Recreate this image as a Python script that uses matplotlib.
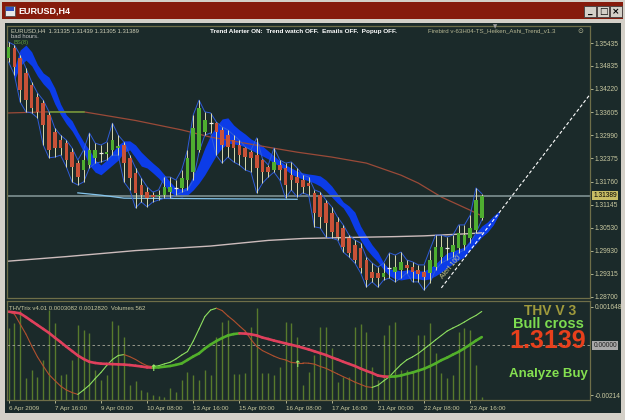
import numpy as np
import matplotlib
matplotlib.use("Agg")
import matplotlib.pyplot as plt
from matplotlib.patches import Rectangle
from matplotlib.collections import LineCollection
from matplotlib.transforms import blended_transform_factory

plt.rcParams['font.family'] = ['Liberation Sans', 'DejaVu Sans']

# ---- price data (Heiken Ashi candles, H4 bars) ----
open_ = [1.3504, 1.3530, 1.3504, 1.3464, 1.3432, 1.3400, 1.3384, 1.3353, 1.3307, 1.3286,
         1.3278, 1.3254, 1.3225, 1.3207, 1.3220, 1.3239, 1.3252, 1.3249, 1.3260, 1.3265,
         1.3273, 1.3239, 1.3199, 1.3167, 1.3148, 1.3140, 1.3138, 1.3140, 1.3148, 1.3159,
         1.3159, 1.3180, 1.3201, 1.3260, 1.3307, 1.3331, 1.3331, 1.3313, 1.3299, 1.3286,
         1.3273, 1.3265, 1.3254, 1.3246, 1.3233, 1.3215, 1.3207, 1.3220, 1.3212, 1.3193,
         1.3188, 1.3180, 1.3172, 1.3146, 1.3140, 1.3119, 1.3093, 1.3069, 1.3053, 1.3026,
         1.3008, 1.3000, 1.2968, 1.2936, 1.2934, 1.2923, 1.2947, 1.2936, 1.2942, 1.2955,
         1.2949, 1.2942, 1.2936, 1.2934, 1.2949, 1.2976, 1.3000, 1.2989, 1.3000, 1.3008,
         1.3026, 1.3048, 1.3079]
close_ = [1.3533, 1.3480, 1.3419, 1.3392, 1.3371, 1.3361, 1.3326, 1.3260, 1.3265, 1.3265,
          1.3233, 1.3215, 1.3188, 1.3233, 1.3260, 1.3260, 1.3251, 1.3254, 1.3286, 1.3270,
          1.3225, 1.3185, 1.3146, 1.3140, 1.3132, 1.3135, 1.3140, 1.3162, 1.3162, 1.3158,
          1.3185, 1.3239, 1.3318, 1.3371, 1.3339, 1.3332, 1.3307, 1.3273, 1.3268, 1.3265,
          1.3246, 1.3241, 1.3239, 1.3212, 1.3201, 1.3201, 1.3228, 1.3207, 1.3167, 1.3180,
          1.3172, 1.3162, 1.3164, 1.3093, 1.3082, 1.3066, 1.3042, 1.3029, 1.3002, 1.2987,
          1.2968, 1.2947, 1.2915, 1.2920, 1.2920, 1.2934, 1.2946, 1.2949, 1.2963, 1.2947,
          1.2936, 1.2931, 1.2923, 1.2968, 1.3002, 1.3002, 1.3001, 1.3008, 1.3040, 1.3034,
          1.3053, 1.3127, 1.3139]
high_ = [1.3546, 1.3538, 1.3512, 1.3477, 1.3440, 1.3411, 1.3392, 1.3361, 1.3318, 1.3299,
         1.3286, 1.3265, 1.3233, 1.3260, 1.3305, 1.3278, 1.3273, 1.3281, 1.3331, 1.3299,
         1.3281, 1.3246, 1.3212, 1.3185, 1.3162, 1.3148, 1.3154, 1.3188, 1.3188, 1.3180,
         1.3207, 1.3260, 1.3353, 1.3392, 1.3361, 1.3358, 1.3334, 1.3321, 1.3313, 1.3299,
         1.3286, 1.3268, 1.3260, 1.3292, 1.3236, 1.3220, 1.3265, 1.3233, 1.3225, 1.3228,
         1.3212, 1.3193, 1.3188, 1.3154, 1.3148, 1.3127, 1.3109, 1.3082, 1.3061, 1.3034,
         1.3021, 1.3013, 1.2976, 1.2960, 1.2949, 1.2960, 1.2987, 1.2981, 1.2989, 1.2968,
         1.2963, 1.2955, 1.2955, 1.2995, 1.3034, 1.3034, 1.3029, 1.3034, 1.3061, 1.3061,
         1.3087, 1.3159, 1.3144]
low_ = [1.3493, 1.3459, 1.3387, 1.3361, 1.3358, 1.3345, 1.3273, 1.3239, 1.3241, 1.3246,
        1.3215, 1.3175, 1.3167, 1.3175, 1.3212, 1.3225, 1.3228, 1.3233, 1.3246, 1.3246,
        1.3175, 1.3154, 1.3106, 1.3122, 1.3109, 1.3122, 1.3127, 1.3132, 1.3132, 1.3140,
        1.3148, 1.3154, 1.3180, 1.3254, 1.3299, 1.3305, 1.3246, 1.3225, 1.3241, 1.3228,
        1.3220, 1.3207, 1.3201, 1.3146, 1.3172, 1.3188, 1.3201, 1.3180, 1.3132, 1.3154,
        1.3135, 1.3146, 1.3140, 1.3056, 1.3053, 1.3029, 1.3026, 1.3021, 1.2989, 1.2976,
        1.2960, 1.2934, 1.2896, 1.2910, 1.2896, 1.2915, 1.2920, 1.2910, 1.2920, 1.2934,
        1.2910, 1.2910, 1.2888, 1.2907, 1.2942, 1.2960, 1.2968, 1.2976, 1.2987, 1.2995,
        1.3013, 1.3040, 1.3074]

# blue trend ribbon, starts at bar 1 and runs 3 bars past the last candle
ribbon_start = 1
ribbon_hi = [1.3477, 1.3525, 1.3538, 1.3520, 1.3486, 1.3464, 1.3453, 1.3424, 1.3382, 1.3353,
             1.3337, 1.3307, 1.3281, 1.3260, 1.3233, 1.3220, 1.3233, 1.3254, 1.3273, 1.3284,
             1.3284, 1.3273, 1.3254, 1.3239, 1.3225, 1.3212, 1.3194, 1.3175, 1.3159, 1.3156,
             1.3162, 1.3191, 1.3225, 1.3265, 1.3299, 1.3323, 1.3342, 1.3345, 1.3326, 1.3313,
             1.3302, 1.3289, 1.3281, 1.3270, 1.3257, 1.3244, 1.3231, 1.3220, 1.3212, 1.3204,
             1.3199, 1.3196, 1.3194, 1.3191, 1.3180, 1.3164, 1.3143, 1.3122, 1.3111, 1.3095,
             1.3058, 1.3032, 1.3008, 1.2989, 1.2960, 1.2944, 1.2942, 1.2939, 1.2942, 1.2942,
             1.2939, 1.2939, 1.2947, 1.2958, 1.2973, 1.2987, 1.2992, 1.2997, 1.3002, 1.3021,
             1.3040, 1.3058, 1.3069, 1.3085, 1.3098]
ribbon_lo = [1.3445, 1.3483, 1.3498, 1.3483, 1.3456, 1.3435, 1.3419, 1.3382, 1.3353, 1.3329,
             1.3310, 1.3284, 1.3254, 1.3220, 1.3201, 1.3194, 1.3207, 1.3220, 1.3233, 1.3254,
             1.3260, 1.3239, 1.3217, 1.3212, 1.3199, 1.3185, 1.3167, 1.3148, 1.3138, 1.3135,
             1.3140, 1.3154, 1.3172, 1.3194, 1.3220, 1.3246, 1.3265, 1.3278, 1.3276, 1.3273,
             1.3268, 1.3260, 1.3252, 1.3244, 1.3236, 1.3225, 1.3217, 1.3207, 1.3196, 1.3188,
             1.3183, 1.3178, 1.3172, 1.3164, 1.3151, 1.3135, 1.3119, 1.3106, 1.3082, 1.3048,
             1.3021, 1.2997, 1.2979, 1.2963, 1.2942, 1.2926, 1.2918, 1.2915, 1.2918, 1.2920,
             1.2918, 1.2915, 1.2918, 1.2926, 1.2936, 1.2947, 1.2958, 1.2968, 1.2976, 1.2995,
             1.3011, 1.3029, 1.3042, 1.3061, 1.3090]

# moving averages read at a few bars
ma_mid_bars = [0, 7, 13, 22, 30, 35, 45, 50, 56, 62, 68, 71, 75, 80, 82]
ma_mid_vals = [1.3358, 1.3361, 1.3361, 1.3338, 1.3313, 1.3294, 1.3267, 1.3254, 1.3241,
               1.3225, 1.3193, 1.3172, 1.3135, 1.3100, 1.3085]
ma_long_bars = [0, 10, 22, 35, 45, 51, 60, 67, 72, 80, 82]
ma_long_vals = [1.2965, 1.2977, 1.2993, 1.3005, 1.3020, 1.3025, 1.3028, 1.3030, 1.3032,
                1.3038, 1.3040]
support_bars = [12, 16, 20, 50]
support_vals = [1.3146, 1.3140, 1.3132, 1.3129]
trend_bars = [75, 101]
trend_vals = [1.2894, 1.3412]
last_price = 1.31389

price_ticks = [1.35435, 1.34835, 1.34220, 1.33605, 1.32990, 1.32375, 1.31760, 1.31145,
               1.30530, 1.29930, 1.29315, 1.28700]

# ---- THVTrix indicator (values in 1e-4) and tick volumes ----
slow_e4 = [14.4, 14.1, 13.7, 12.1, 10.4, 8.7, 7.0, 5.3, 3.3, 1.4,
           -0.6, -2.5, -4.4, -5.9, -7.1, -7.6, -7.9, -8.0, -8.1, -8.2,
           -8.3, -8.5, -8.8, -9.1, -9.5, -9.6, -9.5, -9.2, -8.9, -8.4,
           -7.8, -6.3, -4.8, -3.5, -1.4, 0.3, 1.8, 3.1, 4.2, 4.8,
           5.1, 5.0, 4.7, 4.2, 3.3, 2.7, 2.0, 1.4, 0.8, 0.2,
           -0.4, -1.1, -1.8, -2.6, -3.4, -4.2, -5.2, -6.1, -7.1, -8.0,
           -8.9, -10.0, -11.0, -11.9, -13.0, -13.4, -13.5, -13.4, -13.0, -12.3,
           -11.7, -10.9, -10.1, -9.0, -7.8, -6.4, -5.3, -4.0, -2.8, -1.3,
           0.3, 2.0, 3.5]
fast_e4 = [14.4, 13.4, 9.1, 4.8, -0.3, -5.0, -8.9, -12.6, -15.1, -17.5,
           -19.2, -20.3, -21.1, -19.2, -17.1, -14.3, -11.7, -8.7, -6.1, -4.4,
           -4.0, -4.9, -6.1, -7.6, -8.8, -9.2, -8.8, -8.0, -7.3, -5.9,
           -4.2, -2.7, 1.8, 7.0, 12.3, 15.1, 15.9, 14.9, 12.6, 10.6,
           8.3, 6.1, 2.5, -0.5, -2.3, -3.5, -4.7, -5.7, -6.3, -7.4,
           -7.6, -7.6, -7.7, -8.1, -9.1, -9.9, -11.1, -12.3, -13.5, -14.6,
           -15.8, -16.8, -17.8, -18.1, -17.2, -15.3, -13.5, -10.8, -8.3, -6.3,
           -5.0, -3.5, -1.6, 0.3, 2.3, 4.2, 6.1, 7.4, 8.6, 10.0,
           11.5, 12.8, 14.5]
cross_bars = [25, 50]
volumes = [720, 770, 900, 220, 300, 230, 400, 900, 770, 250,
           260, 400, 750, 700, 670, 300, 200, 250, 790, 750,
           630, 150, 190, 100, 80, 50, 40, 30, 120, 80,
           200, 280, 250, 200, 300, 250, 630, 780, 800, 260,
           260, 270, 730, 920, 270, 270, 250, 330, 780, 770,
           630, 150, 280, 450, 730, 730, 520, 180, 230, 230,
           730, 760, 680, 330, 200, 650, 750, 780, 300, 300,
           280, 650, 650, 770, 470, 270, 220, 250, 680, 720,
           700, 350, 30]
ind_ticks_e4 = [16.48, -21.4]
ind_tick_labels = ['0.001648', '-0.00214']

date_bars = [0, 8, 16, 24, 32, 40, 48, 56, 64, 72, 80]
date_labels = ['6 Apr 2009', '7 Apr 16:00', '9 Apr 00:00', '10 Apr 08:00', '13 Apr 16:00',
               '15 Apr 00:00', '16 Apr 08:00', '17 Apr 16:00', '21 Apr 00:00',
               '22 Apr 08:00', '23 Apr 16:00']

# ---- layout helpers (pixel -> figure fraction) ----
W, H = 625, 420
def fx(px):
    return px / W
def fy(py):
    return 1 - py / H

BG = '#1b2a2a'
FRAME = '#6e6e48'
TXT = '#c8c8a0'
WIN = '#d4d0c8'
XLIM = (-0.28, 100.76)

fig = plt.figure(figsize=(6.25, 4.2), dpi=100, facecolor=WIN)

# window chrome (kept behind the axes)
def fig_rect(x0, y0, x1, y1, **kw):
    r = Rectangle((fx(x0), fy(y1)), (x1 - x0) / W, (y1 - y0) / H,
                  transform=fig.transFigure, zorder=-5, **kw)
    fig.add_artist(r)

fig_rect(2, 2, 623, 19, fc='#861b0c', ec='none')
fig_rect(5, 6, 15, 16, fc='#e8e8e8', ec='#404040', lw=0.5)
fig_rect(6, 7, 14, 11, fc='#3050c0', ec='none')
fig.text(fx(18), fy(11), 'EURUSD,H4', color='white', fontsize=6.5, fontweight='bold',
         va='center', ha='left')
for bx, glyph in zip([584, 597, 610], ['_', '□', '×']):
    fig_rect(bx, 6, bx + 12, 17, fc=WIN, ec='#404040', lw=0.6)
    fig.text(fx(bx + 6), fy(11.5), glyph, color='black', fontsize=6.5, fontweight='bold',
             ha='center', va='center', family=['DejaVu Sans'])
fig_rect(5, 23, 621, 413, fc=BG, ec='none')

# ---- main price chart ----
ax = fig.add_axes([fx(7), fy(298), 583 / W, 272 / H], facecolor=BG)
bars = np.arange(len(open_))
o = np.array(open_)
c = np.array(close_)
hi = np.array(high_)
lo = np.array(low_)

rb = np.arange(ribbon_start, ribbon_start + len(ribbon_hi))
ax.fill_between(rb, ribbon_lo, ribbon_hi, color='#0c3ce8', lw=0, zorder=1)

ax.plot(ma_long_bars, ma_long_vals, color='#cdbcbc', lw=1.0, zorder=2)
ax.plot(ma_mid_bars, ma_mid_vals, color='#9a4a38', lw=0.9, zorder=2)
ax.plot(ma_mid_bars[1:3], ma_mid_vals[1:3], color='#6a9a3a', lw=1.1, zorder=2)
ax.axhline(last_price, color='#76898a', lw=1.3, zorder=2)
ax.plot(support_bars, support_vals, color='#84c4ec', lw=0.9, zorder=2)

ax.plot(bars, hi, color='#2f5cd8', lw=0.7, zorder=3)
ax.plot(bars, lo, color='#2f5cd8', lw=0.7, zorder=3)

ax.vlines(bars, lo, hi, color='#dcdcae', lw=0.7, zorder=4)
body_lo = np.minimum(o, c)
body_h = np.abs(c - o)
doji = body_h < 0.00015
col = np.where(c > o, '#4fae30', '#c85238')
ax.bar(bars[~doji], body_h[~doji], bottom=body_lo[~doji], width=0.62,
       color=col[~doji], lw=0, zorder=5)
ax.hlines(c[doji], bars[doji] - 0.35, bars[doji] + 0.35, color='#f0f0f0', lw=0.9, zorder=5)

ax.plot(trend_bars, trend_vals, color='white', lw=0.8, ls=(0, (3, 2)), zorder=6)
ax.text(76.6, 1.2950, 'Alert 100', color='#c8c890', fontsize=5, rotation=50,
        ha='center', va='center', zorder=7)

ax.set_xlim(*XLIM)
ax.set_ylim(1.28672, 1.35886)
ax.set_xticks([])
ax.yaxis.tick_right()
ax.set_yticks(price_ticks)
ax.set_yticklabels(['%.5f' % v for v in price_ticks])
ax.tick_params(axis='y', colors=TXT, labelsize=4.8, length=2, width=0.6, pad=1.5)
for s in ax.spines.values():
    s.set_color(FRAME)
    s.set_linewidth(0.9)
tr = blended_transform_factory(ax.transAxes, ax.transData)
ax.text(1.006, last_price, '%.5f' % last_price, transform=tr, fontsize=4.8, color='black',
        va='center', ha='left', bbox=dict(fc='#c8bc64', ec='none', pad=0.7), zorder=8)

# chart header texts
fig.text(fx(11), fy(31), 'EURUSD,H4  1.31335 1.31439 1.31305 1.31389', color='#d0d0b8',
         fontsize=4.2, va='center')
fig.text(fx(11), fy(37), 'bad hours.', color='#c8c8c8', fontsize=4.2, va='center')
fig.text(fx(14), fy(42.5), 'BS(8)', color='#5ca040', fontsize=4.2, va='center')
fig.text(fx(210), fy(31), 'Trend Alerter ON:  Trend watch OFF.  Emails OFF.  Popup OFF.',
         color='white', fontsize=4.6, fontweight='bold', va='center')
fig.text(fx(428), fy(31), 'Firebird v-63H04-TS_Heiken_Ashi_Trend_v1.3', color='#b8b894',
         fontsize=4.4, va='center')
fig.text(fx(580), fy(31), '⊙', color='#b8b894', fontsize=5, va='center', ha='center',
         family=['DejaVu Sans'])
fig.text(fx(495), fy(27), '▼', color='#a0a0a0', fontsize=4, va='center', ha='center',
         family=['DejaVu Sans'])

# ---- indicator window ----
ind_pos = [fx(7), fy(400), 583 / W, 99 / H]
ax_vol = fig.add_axes(ind_pos, facecolor=BG)
ax_vol.vlines(bars, 0, volumes, color='#587a2c', lw=1.0)
ax_vol.set_xlim(*XLIM)
ax_vol.set_ylim(0, 990)
ax_vol.set_xticks([])
ax_vol.set_yticks([])
for s in ax_vol.spines.values():
    s.set_visible(False)

ax_ind = fig.add_axes(ind_pos, facecolor='none')
ax_ind.axhline(0, color='#a8a898', lw=0.6, ls=(0, (3, 3)))


def colored_line(axis, y, up_color, down_color, lw):
    y = np.asarray(y)
    segs = [[(i, y[i]), (i + 1, y[i + 1])] for i in range(len(y) - 1)]
    cols = [up_color if y[i + 1] > y[i] else down_color for i in range(len(y) - 1)]
    axis.add_collection(LineCollection(segs, colors=cols, linewidths=lw, capstyle='round'))


colored_line(ax_ind, fast_e4, '#8ee060', '#b0502e', 0.8)
colored_line(ax_ind, slow_e4, '#52b02a', '#e0405c', 1.9)
for b in cross_bars:
    ax_ind.text(b, fast_e4[b] - 0.8, '↑', color='#9ef070', fontsize=6.5, fontweight='bold',
                ha='center', va='center', family=['DejaVu Sans'], zorder=5)

ax_ind.set_xlim(*XLIM)
ax_ind.set_ylim(-23.5, 19.0)
ax_ind.yaxis.tick_right()
ax_ind.set_yticks(ind_ticks_e4)
ax_ind.set_yticklabels(ind_tick_labels)
ax_ind.set_xticks(date_bars)
ax_ind.set_xticklabels(date_labels, ha='left')
ax_ind.tick_params(axis='y', colors=TXT, labelsize=4.8, length=2, width=0.6, pad=1.5)
ax_ind.tick_params(axis='x', colors=TXT, labelsize=4.5, length=2, width=0.6, pad=2)
for s in ax_ind.spines.values():
    s.set_color(FRAME)
    s.set_linewidth(0.9)
tri = blended_transform_factory(ax_ind.transAxes, ax_ind.transData)
ax_ind.text(1.006, 0, '0.00000', transform=tri, fontsize=4.8, color='#202020',
            va='center', ha='left', bbox=dict(fc='#a8a8a8', ec='none', pad=0.7))

fig.text(fx(9), fy(308), 'THVTrix v4.01 0.0003082 0.0012820  Volumes 562', color=TXT,
         fontsize=4.3, va='center')
fig.text(fx(550), fy(311), 'THV V 3', color='#a09a3c', fontsize=10, fontweight='bold',
         ha='center', va='center')
fig.text(fx(548), fy(331), 'System', color='#707064', fontsize=5, ha='center', va='center',
         zorder=-1)
fig.text(fx(548), fy(323.5), 'Bull cross', color='#7ddc50', fontsize=10.5, fontweight='bold',
         ha='center', va='center')
fig.text(fx(548), fy(341), '1.3139', color='#e8401c', fontsize=18, fontweight='bold',
         ha='center', va='center')
fig.text(fx(548), fy(374), 'Analyze Buy', color='#84e050', fontsize=9.5, fontweight='bold',
         ha='center', va='center')

fig.savefig('out.png', dpi=100, facecolor=WIN)
